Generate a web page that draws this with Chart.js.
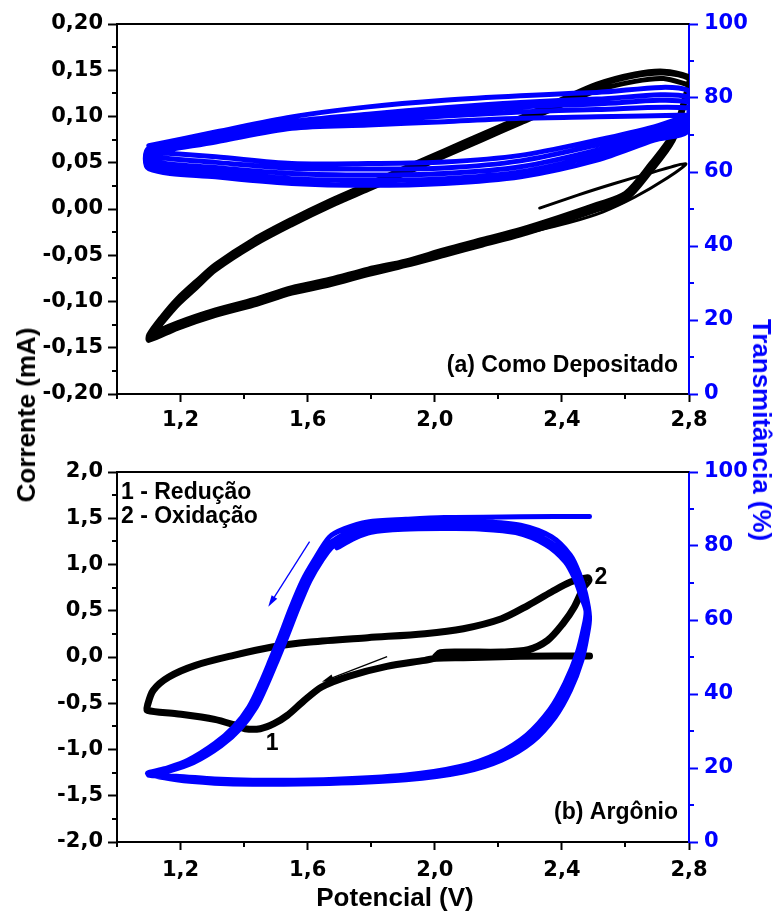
<!DOCTYPE html>
<html>
<head>
<meta charset="utf-8">
<script src="https://cdn.jsdelivr.net/npm/chart.js@4.4.1/dist/chart.umd.min.js"></script>
<style>
  html, body { margin: 0; padding: 0; background: #fff; }
  #fig { position: relative; width: 776px; height: 916px; overflow: hidden; }
  #boxA { position: absolute; left: 0; top: 0; width: 776px; height: 440px; }
  #boxB { position: absolute; left: 0; top: 440px; width: 776px; height: 476px; }
  .ttl { position: absolute; white-space: nowrap; font-family: "Liberation Sans", Arial, sans-serif;
         font-weight: bold; font-size: 26px; line-height: 1; }
  #ttlY  { left: 26px;  top: 415px; transform: translate(-50%, -50%) rotate(-90deg); color: #000; }
  #ttlY2 { left: 762px; top: 430px; transform: translate(-50%, -50%) rotate(90deg);  color: #0000ff; }
  #ttlX  { left: 395px; top: 897px; transform: translate(-50%, -50%); color: #000; }
</style>
</head>
<body>
<div id="fig">
  <div id="boxA"><canvas id="chartA" width="776" height="440"></canvas></div>
  <div id="boxB"><canvas id="chartB" width="776" height="476"></canvas></div>
  <div class="ttl" id="ttlY">Corrente (mA)</div>
  <div class="ttl" id="ttlY2">Transmitância (%)</div>
  <div class="ttl" id="ttlX">Potencial (V)</div>
</div>
<script>
// ---------- axes ----------
const X_TICKS   = [1.2, 1.6, 2.0, 2.4, 2.8];
const X_MINOR   = [1.0, 1.4, 1.8, 2.2, 2.6];
const A_I_TICKS = [-0.20, -0.15, -0.10, -0.05, 0.00, 0.05, 0.10, 0.15, 0.20];
const A_I_MINOR = [-0.175, -0.125, -0.075, -0.025, 0.025, 0.075, 0.125, 0.175];
const B_I_TICKS = [-2.0, -1.5, -1.0, -0.5, 0.0, 0.5, 1.0, 1.5, 2.0];
const B_I_MINOR = [-1.75, -1.25, -0.75, -0.25, 0.25, 0.75, 1.25, 1.75];
const T_TICKS   = [0, 20, 40, 60, 80, 100];
const T_MINOR   = [10, 30, 50, 70, 90];

// ---------- (a) as deposited: current (mA) ----------
// first partial sweep from the rest potential and its return
const A_START_E = [2.33, 2.45, 2.56, 2.68, 2.79, 2.72, 2.63, 2.53, 2.42, 2.30, 2.18, 2.08];
const A_START_I = [0.001, 0.015, 0.027, 0.039, 0.049, 0.031, 0.013, -0.003, -0.015, -0.025, -0.034, -0.041];
// cathodic sweeps (2.8 V -> 1.1 V)
const A_CAT_E  = [2.80, 2.78, 2.75, 2.68, 2.60, 2.51, 2.39, 2.27, 2.15, 2.03, 1.91, 1.79, 1.67, 1.55, 1.43, 1.31, 1.19, 1.10];
const A_CAT_I1 = [0.136, 0.110, 0.078, 0.045, 0.013, 0.002, -0.012, -0.025, -0.036, -0.047, -0.059, -0.068, -0.079, -0.088, -0.101, -0.112, -0.126, -0.140];
const A_CAT_I2 = [0.132, 0.106, 0.074, 0.041, 0.010, -0.001, -0.015, -0.028, -0.039, -0.050, -0.061, -0.071, -0.082, -0.091, -0.104, -0.115, -0.129, -0.142];
const A_CAT_I3 = [0.138, 0.113, 0.082, 0.049, 0.017, 0.005, -0.009, -0.022, -0.033, -0.044, -0.056, -0.065, -0.076, -0.085, -0.098, -0.109, -0.123, -0.137];
// anodic sweeps (1.1 V -> 2.8 V)
const A_AN_E  = [1.10, 1.14, 1.19, 1.25, 1.31, 1.43, 1.55, 1.67, 1.79, 1.91, 2.03, 2.15, 2.27, 2.39, 2.51, 2.63, 2.72, 2.80];
const A_AN_I1 = [-0.139, -0.121, -0.101, -0.081, -0.063, -0.036, -0.014, 0.006, 0.024, 0.042, 0.060, 0.078, 0.096, 0.114, 0.133, 0.144, 0.147, 0.141];
const A_AN_I2 = [-0.136, -0.117, -0.097, -0.078, -0.060, -0.033, -0.011, 0.009, 0.027, 0.045, 0.063, 0.081, 0.099, 0.117, 0.135, 0.146, 0.149, 0.143];
const A_AN_I3 = [-0.141, -0.124, -0.104, -0.085, -0.066, -0.039, -0.017, 0.003, 0.021, 0.039, 0.057, 0.075, 0.093, 0.111, 0.128, 0.138, 0.141, 0.134];

// ---------- (a) as deposited: transmittance (%) ----------
const A_TUP_E = [1.10, 1.31, 1.55, 1.79, 2.03, 2.27, 2.51, 2.80];
const A_TUP_1 = [67.1, 70.8, 74.9, 77.6, 79.4, 80.6, 81.5, 82.0];
const A_TUP_2 = [66.4, 69.9, 73.6, 75.6, 77.4, 78.8, 79.7, 80.2];
const A_TUP_3 = [65.9, 69.2, 72.9, 74.7, 76.3, 77.6, 78.4, 78.9];
const A_TUP_4 = [65.4, 68.6, 72.3, 73.7, 75.1, 76.2, 76.9, 77.3];
const A_TUP_5 = [65.0, 68.1, 71.8, 72.7, 73.6, 74.5, 74.9, 75.4];
const A_TDN_E = [2.80, 2.69, 2.51, 2.27, 2.03, 1.79, 1.55, 1.31, 1.10];
const A_TDN_1 = [71.3, 68.6, 63.2, 58.7, 56.9, 56.4, 56.9, 58.7, 60.9];
const A_TDN_2 = [72.3, 69.5, 64.6, 60.0, 58.2, 57.8, 58.2, 59.9, 61.9];
const A_TDN_3 = [73.3, 70.4, 65.9, 61.4, 59.6, 59.2, 59.6, 61.2, 63.0];
const A_TDN_4 = [74.3, 71.3, 67.3, 63.0, 61.1, 60.8, 61.0, 62.6, 64.2];
const A_TDN_5 = [75.4, 72.2, 68.6, 64.5, 62.7, 62.3, 62.3, 64.1, 65.4];

// ---------- (b) argon: current (mA) ----------
const B_E = [2.487, 2.270, 2.090, 2.005, 1.969, 1.849, 1.728, 1.644, 1.584, 1.536, 1.494, 1.451, 1.403, 1.367, 1.307, 1.187, 1.096,
             1.096, 1.114, 1.163, 1.247, 1.367, 1.488, 1.608, 1.789, 1.969, 2.090, 2.210, 2.294, 2.367, 2.427, 2.481,
             2.485, 2.469, 2.439, 2.403, 2.355, 2.294, 2.210, 2.090, 2.017, 2.003];
const B_I = [0.011, 0.007, -0.007, -0.014, -0.036, -0.101, -0.209, -0.324, -0.486, -0.631, -0.721, -0.775, -0.775, -0.732, -0.674, -0.613, -0.577,
             -0.523, -0.360, -0.216, -0.090, 0.018, 0.108, 0.162, 0.209, 0.252, 0.306, 0.414, 0.559, 0.703, 0.811, 0.858,
             0.829, 0.757, 0.541, 0.360, 0.180, 0.079, 0.054, 0.054, 0.047, 0.007];

// ---------- (b) argon: transmittance (%) ----------
const B_T0_E = [2.487, 2.270, 2.030, 1.909, 1.789, 1.716, 1.668];
const B_T0_T = [88.0, 87.9, 87.7, 87.2, 86.5, 84.7, 82.4];
const B_S1_E = [1.620, 1.584, 1.548, 1.512, 1.482, 1.451, 1.415, 1.367, 1.307, 1.223, 1.150, 1.096];
const B_S1_T = [76.1, 70.7, 63.5, 55.4, 49.1, 42.8, 36.5, 31.1, 26.6, 22.1, 19.8, 18.5];
const B_L1_E = [1.187, 1.307, 1.427, 1.668, 1.909, 2.090, 2.210, 2.306, 2.379, 2.427, 2.463, 2.481, 2.487];
const B_L1_T = [16.8, 15.9, 15.6, 15.8, 16.8, 18.9, 22.1, 27.0, 33.8, 41.0, 49.1, 56.3, 60.8];
const B_U1_E = [2.475, 2.455, 2.427, 2.367, 2.270, 2.150, 2.029, 1.909, 1.789, 1.728, 1.668];
const B_U1_T = [67.0, 72.5, 77.5, 82.5, 85.6, 86.6, 86.6, 86.4, 85.6, 83.8, 80.6];
const B_S2_E = [1.632, 1.596, 1.560, 1.524, 1.494, 1.463, 1.427, 1.379, 1.318, 1.232, 1.156, 1.098];
const B_S2_T = [76.3, 70.9, 63.6, 55.6, 49.3, 43.0, 36.6, 31.0, 26.3, 21.7, 19.4, 18.2];
const B_L2_E = [1.187, 1.307, 1.427, 1.668, 1.909, 2.085, 2.202, 2.297, 2.370, 2.418, 2.455, 2.474, 2.481];
const B_L2_T = [17.3, 16.5, 16.2, 16.4, 17.5, 19.7, 23.0, 28.0, 34.9, 42.1, 50.1, 57.1, 61.6];
const B_U2_E = [2.468, 2.447, 2.418, 2.357, 2.262, 2.145, 2.025, 1.905, 1.795, 1.738, 1.680];
const B_U2_T = [66.5, 71.8, 76.6, 81.4, 84.6, 85.6, 85.6, 85.4, 84.6, 82.9, 80.0];
const B_S3_E = [1.644, 1.607, 1.571, 1.535, 1.505, 1.474, 1.438, 1.390, 1.328, 1.240, 1.161, 1.100];
const B_S3_T = [76.0, 70.6, 63.4, 55.5, 49.2, 42.9, 36.4, 30.8, 26.0, 21.4, 19.1, 18.0];
const B_L3_E = [1.187, 1.307, 1.427, 1.668, 1.909, 2.080, 2.195, 2.289, 2.362, 2.410, 2.448, 2.468, 2.476];
const B_L3_T = [17.8, 17.0, 16.7, 16.9, 18.1, 20.4, 23.8, 28.9, 35.8, 43.0, 51.0, 57.8, 62.3];
const B_U3_E = [2.462, 2.440, 2.410, 2.348, 2.255, 2.140, 2.020, 1.900, 1.800, 1.748, 1.692];
const B_U3_T = [66.0, 71.2, 75.8, 80.4, 83.6, 84.6, 84.7, 84.5, 83.7, 82.1, 79.5];

// ---------- annotations for (b): sweep-direction arrows and peak labels ----------
const B_ARROW_T = [[1.606, 81.2], [1.476, 63.6]];   // transmittance scale
const B_ARROW_I = [[1.850, 0.003], [1.645, -0.267]]; // current scale
const B_PEAKS   = [['1', 1.488, -0.933], ['2', 2.523, 0.854]];

// ---------- drawing ----------
const BLACK = '#000000', BLUE = '#0000ff';
const TICK_FONT = { family: "'DejaVu Sans', sans-serif", size: 21, weight: 'bold' };
const NOTE_FONT = "bold 23px 'Liberation Sans', Arial, sans-serif";
const MAJOR_LEN = 9, MINOR_LEN = 5;

const pts = (xs, ys) => xs.map((x, i) => ({ x, y: ys[i] }));
const path = (...parts) => parts.flatMap(([xs, ys]) => pts(xs, ys));
const comma = d => v => v.toFixed(d).replace('.', ',');

function line(data, color, width, axis, order) {
  return { data, yAxisID: axis, showLine: true, pointRadius: 0, borderColor: color,
           backgroundColor: color, borderWidth: width, tension: 0.3, fill: false, order,
           borderJoinStyle: 'round', borderCapStyle: 'round' };
}

function xAxis(height, pad) {
  return {
    type: 'linear', position: 'bottom', min: 1.0, max: 2.8,
    afterBuildTicks: s => { s.ticks = X_TICKS.map(v => ({ value: v })); },
    afterFit: s => { s.height = height; },
    border: { display: true, color: BLACK, width: 2 },
    grid: { drawOnChartArea: false, drawTicks: true, tickLength: MAJOR_LEN - 1, tickWidth: 2, tickColor: BLACK, color: BLACK },
    ticks: { color: BLACK, font: TICK_FONT, padding: pad, maxRotation: 0, autoSkip: false, callback: comma(1) }
  };
}
function yAxis(min, max, ticks, dec) {
  return {
    type: 'linear', position: 'left', min, max,
    afterBuildTicks: s => { s.ticks = ticks.map(v => ({ value: v })); },
    afterFit: s => { s.width = 117; },
    border: { display: true, color: BLACK, width: 2 },
    grid: { drawOnChartArea: false, drawTicks: true, tickLength: MAJOR_LEN, tickWidth: 2, tickColor: BLACK, color: BLACK },
    ticks: { color: BLACK, font: TICK_FONT, padding: 5, autoSkip: false, callback: comma(dec) }
  };
}
function tAxis() {
  return {
    type: 'linear', position: 'right', min: 0, max: 100,
    afterBuildTicks: s => { s.ticks = T_TICKS.map(v => ({ value: v })); },
    afterFit: s => { s.width = 87; },
    border: { display: true, color: BLUE, width: 2 },
    grid: { drawOnChartArea: false, drawTicks: true, tickLength: MAJOR_LEN, tickWidth: 2, tickColor: BLUE, color: BLUE },
    ticks: { color: BLUE, font: TICK_FONT, padding: 6, autoSkip: false, callback: v => String(v) }
  };
}

// top border of the plot box and the short minor ticks on every axis
function framePlugin(minor) {
  return {
    id: 'frame',
    afterDraw(chart) {
      const { ctx, chartArea: a } = chart;
      ctx.save();
      ctx.lineWidth = 2;
      ctx.strokeStyle = BLACK;
      ctx.beginPath(); ctx.moveTo(a.left, a.top); ctx.lineTo(a.right, a.top); ctx.stroke();
      for (const [id, values, color] of minor) {
        const s = chart.scales[id];
        ctx.strokeStyle = color;
        ctx.beginPath();
        for (const v of values) {
          const p = Math.round(s.getPixelForValue(v));
          if (s.isHorizontal()) { ctx.moveTo(p, s.top); ctx.lineTo(p, s.top + MINOR_LEN); }
          else if (s.position === 'left') { ctx.moveTo(s.right - MINOR_LEN, p); ctx.lineTo(s.right, p); }
          else { ctx.moveTo(s.left, p); ctx.lineTo(s.left + MINOR_LEN, p); }
        }
        ctx.stroke();
      }
      ctx.restore();
    }
  };
}

function arrow(ctx, x0, y0, x1, y1, color) {
  const ang = Math.atan2(y1 - y0, x1 - x0), L = 12, W = 0.28;
  ctx.strokeStyle = color; ctx.fillStyle = color; ctx.lineWidth = 1.3;
  ctx.beginPath(); ctx.moveTo(x0, y0); ctx.lineTo(x1 - 6 * Math.cos(ang), y1 - 6 * Math.sin(ang)); ctx.stroke();
  ctx.beginPath();
  ctx.moveTo(x1, y1);
  ctx.lineTo(x1 - L * Math.cos(ang - W), y1 - L * Math.sin(ang - W));
  ctx.lineTo(x1 - L * Math.cos(ang + W), y1 - L * Math.sin(ang + W));
  ctx.closePath(); ctx.fill();
}

const notesA = {
  id: 'notesA',
  afterDatasetsDraw(chart) {
    const { ctx, chartArea: a } = chart;
    ctx.save();
    ctx.font = NOTE_FONT; ctx.fillStyle = BLACK;
    ctx.textAlign = 'right'; ctx.textBaseline = 'middle';
    ctx.fillText('(a) Como Depositado', a.right - 11, a.bottom - 28);
    ctx.restore();
  }
};

const notesB = {
  id: 'notesB',
  afterDatasetsDraw(chart) {
    const { ctx, chartArea: a, scales: { x, y, y1 } } = chart;
    ctx.save();
    const [ta, tb] = B_ARROW_T;
    arrow(ctx, x.getPixelForValue(ta[0]), y1.getPixelForValue(ta[1]), x.getPixelForValue(tb[0]), y1.getPixelForValue(tb[1]), BLUE);
    const [ia, ib] = B_ARROW_I;
    arrow(ctx, x.getPixelForValue(ia[0]), y.getPixelForValue(ia[1]), x.getPixelForValue(ib[0]), y.getPixelForValue(ib[1]), BLACK);
    ctx.font = NOTE_FONT; ctx.fillStyle = BLACK; ctx.textBaseline = 'middle';
    ctx.textAlign = 'center';
    for (const [txt, e, i] of B_PEAKS) ctx.fillText(txt, x.getPixelForValue(e), y.getPixelForValue(i));
    ctx.textAlign = 'left';
    ctx.fillText('1 - Redução', a.left + 4, a.top + 21);
    ctx.fillText('2 - Oxidação', a.left + 4, a.top + 45);
    ctx.textAlign = 'right';
    ctx.fillText('(b) Argônio', a.right - 11, a.bottom - 29);
    ctx.restore();
  }
};

const common = {
  responsive: false, animation: false, devicePixelRatio: 1, events: [],
  plugins: { legend: { display: false }, tooltip: { enabled: false } }
};

new Chart(document.getElementById('chartA'), {
  type: 'scatter',
  data: {
    datasets: [
      line(path([A_TUP_E, A_TUP_1], [A_TDN_E, A_TDN_1], [A_TUP_E, A_TUP_2], [A_TDN_E, A_TDN_2],
                [A_TUP_E, A_TUP_3], [A_TDN_E, A_TDN_3], [A_TUP_E, A_TUP_4], [A_TDN_E, A_TDN_4],
                [A_TUP_E, A_TUP_5], [A_TDN_E, A_TDN_5]), BLUE, 5, 'y1', 0),
      line(path([A_CAT_E, A_CAT_I1], [A_AN_E, A_AN_I1], [A_CAT_E, A_CAT_I2], [A_AN_E, A_AN_I2],
                [A_CAT_E, A_CAT_I3], [A_AN_E, A_AN_I3]), BLACK, 5, 'y', 1),
      line(path([A_START_E, A_START_I]), BLACK, 3, 'y', 2)
    ]
  },
  options: Object.assign({}, common, {
    layout: { padding: { top: 24, left: 0, right: 0, bottom: 0 } },
    scales: { x: xAxis(46, 6), y: yAxis(-0.2, 0.2, A_I_TICKS, 2), y1: tAxis() }
  }),
  plugins: [framePlugin([['x', X_MINOR, BLACK], ['y', A_I_MINOR, BLACK], ['y1', T_MINOR, BLUE]]), notesA]
});

new Chart(document.getElementById('chartB'), {
  type: 'scatter',
  data: {
    datasets: [
      line(path([B_T0_E, B_T0_T], [B_S1_E, B_S1_T], [B_L1_E, B_L1_T], [B_U1_E, B_U1_T],
                [B_S2_E, B_S2_T], [B_L2_E, B_L2_T], [B_U2_E, B_U2_T],
                [B_S3_E, B_S3_T], [B_L3_E, B_L3_T], [B_U3_E, B_U3_T]), BLUE, 5, 'y1', 0),
      line(path([B_E, B_I]), BLACK, 7, 'y', 1)
    ]
  },
  options: Object.assign({}, common, {
    layout: { padding: { top: 32, left: 0, right: 0, bottom: 0 } },
    scales: { x: xAxis(74, 8), y: yAxis(-2, 2, B_I_TICKS, 1), y1: tAxis() }
  }),
  plugins: [framePlugin([['x', X_MINOR, BLACK], ['y', B_I_MINOR, BLACK], ['y1', T_MINOR, BLUE]]), notesB]
});
</script>
</body>
</html>
